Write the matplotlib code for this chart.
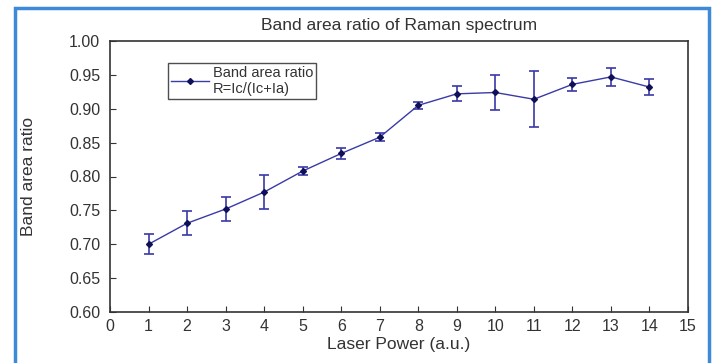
import numpy as np
import matplotlib
matplotlib.use('Agg')
import matplotlib.pyplot as plt
from matplotlib.patches import Rectangle
from matplotlib.lines import Line2D

power = [1, 2, 3, 4, 5, 6, 7, 8, 9, 10, 11, 12, 13, 14]
ratio = [0.700, 0.731, 0.752, 0.777, 0.808, 0.834, 0.858, 0.905, 0.922, 0.924, 0.914, 0.936, 0.947, 0.932]
err = [0.015, 0.018, 0.018, 0.025, 0.006, 0.008, 0.006, 0.005, 0.011, 0.026, 0.041, 0.010, 0.013, 0.012]

LINE = '#3a3aa8'
MARK = '#10105a'
TEXT = '#333333'

plt.rcParams['font.family'] = ['Liberation Sans', 'DejaVu Sans']

fig = plt.figure(figsize=(7.12, 3.63), dpi=100)
ax = fig.add_axes([110 / 712, 1 - 312 / 363, 578 / 712, 271 / 363])

ax.errorbar(power, ratio, yerr=err, color=LINE, linewidth=1.0, elinewidth=1.2,
            capsize=3.5, capthick=1.2, marker='D', markersize=3,
            markerfacecolor=MARK, markeredgecolor=MARK)

ax.set_xlim(0, 15)
ax.set_ylim(0.60, 1.00)
ax.set_xticks(np.arange(0, 16, 1))
ax.set_yticks(np.arange(0.60, 1.001, 0.05))
ax.set_yticklabels([f'{v:.2f}' for v in np.arange(0.60, 1.001, 0.05)])
ax.tick_params(direction='in', length=4, labelsize=11.5, labelcolor=TEXT, color='#333333')
ax.tick_params(axis='y', pad=7)
ax.tick_params(axis='x', pad=5)
for s in ax.spines.values():
    s.set_color('#333333')
    s.set_linewidth(1.2)

ax.set_title('Band area ratio of Raman spectrum', fontsize=12.5, color=TEXT, pad=8)
ax.set_xlabel('Laser Power (a.u.)', fontsize=12.5, color=TEXT, labelpad=2)
ax.set_ylabel('Band area ratio', fontsize=12.5, color=TEXT, labelpad=24)

handle = Line2D([], [], color=LINE, linewidth=1.0, marker='D', markersize=3,
                markerfacecolor=MARK, markeredgecolor=MARK)
leg = ax.legend([handle], ['Band area ratio\nR=Ic/(Ic+Ia)'], loc='upper left',
                bbox_to_anchor=(0.100, 0.919), borderaxespad=0, fontsize=10.5,
                frameon=True, fancybox=False, borderpad=0.2, handlelength=2.6,
                handletextpad=0.3, labelcolor=TEXT)
for t in leg.get_texts():
    t.set_linespacing(1.2)
leg.get_frame().set_edgecolor('#222222')
leg.get_frame().set_linewidth(1.0)

# outer blue frame
fig.patches.append(Rectangle((15 / 712, -0.05), 694 / 712, 1 - 8 / 363 + 0.05,
                             transform=fig.transFigure, fill=False,
                             edgecolor='#3d8bd8', linewidth=2.5))

fig.savefig('out.png', dpi=100)
